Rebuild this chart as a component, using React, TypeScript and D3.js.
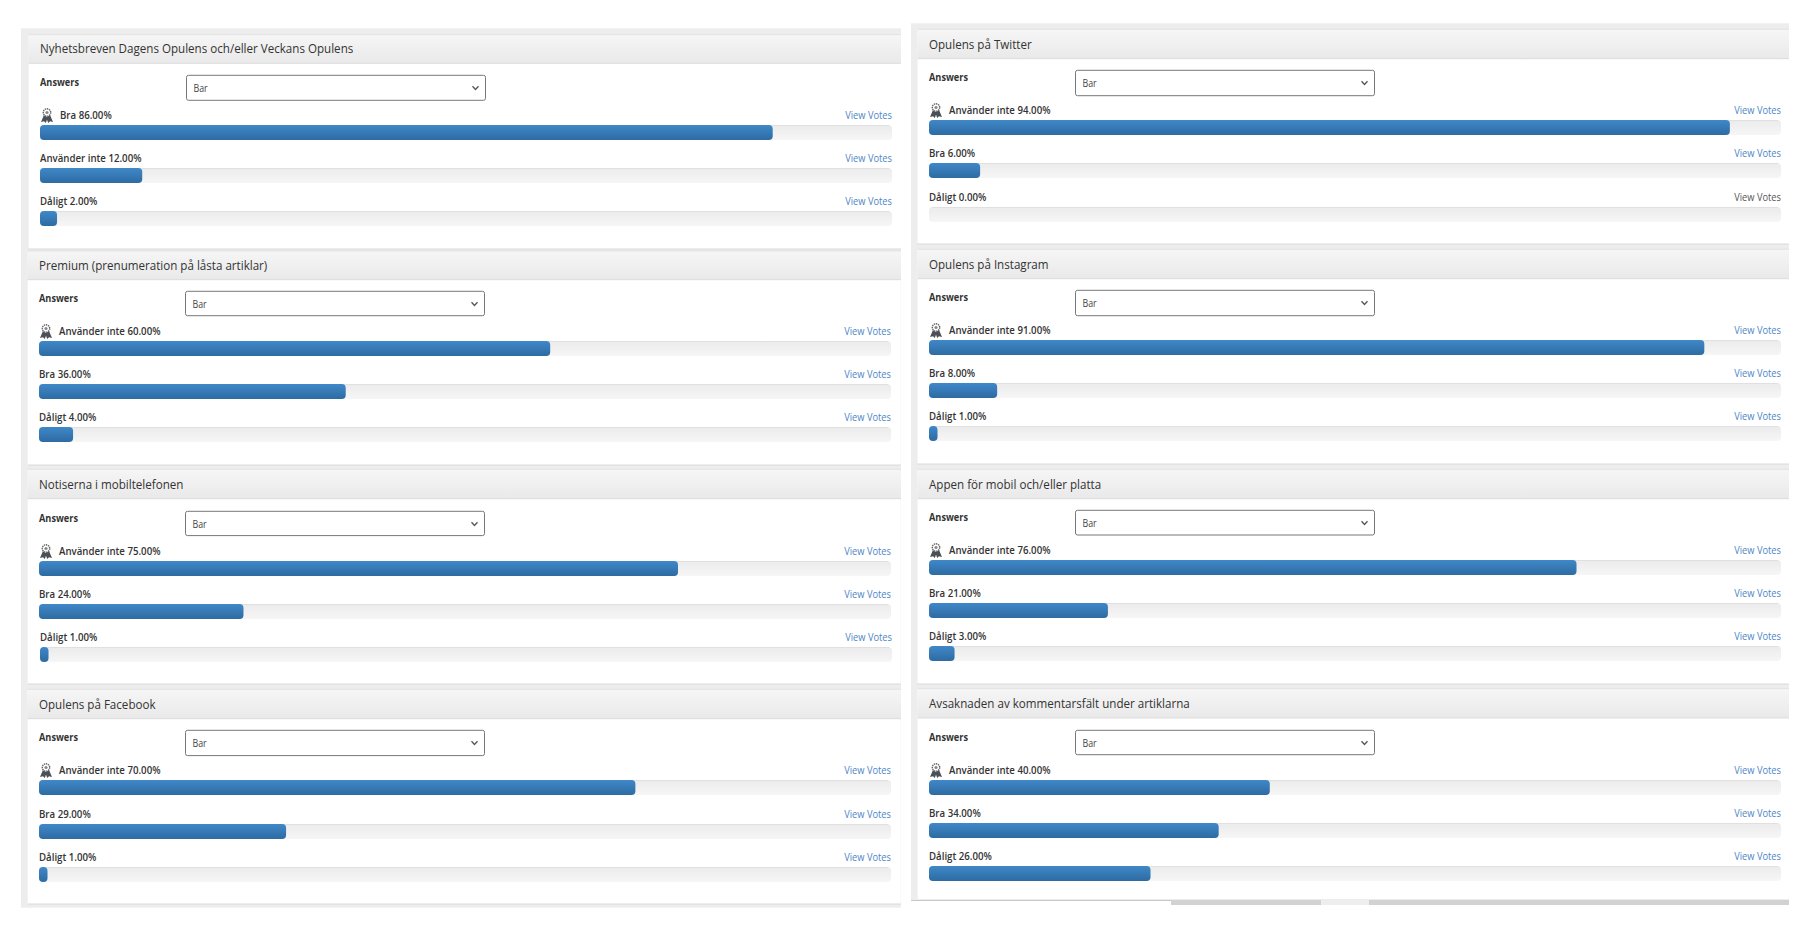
import React from 'react';
import * as d3 from 'd3';

// Poll titles
const leftTitles = [
  'Nyhetsbreven Dagens Opulens och/eller Veckans Opulens',
  'Premium (prenumeration på låsta artiklar)',
  'Notiserna i mobiltelefonen',
  'Opulens på Facebook',
];
const rightTitles = [
  'Opulens på Twitter',
  'Opulens på Instagram',
  'Appen för mobil och/eller platta',
  'Avsaknaden av kommentarsfält under artiklarna',
];

// Answers per poll, winner first
const leftAnswers = [
  ['Bra', 'Använder inte', 'Dåligt'],
  ['Använder inte', 'Bra', 'Dåligt'],
  ['Använder inte', 'Bra', 'Dåligt'],
  ['Använder inte', 'Bra', 'Dåligt'],
];
const leftValues = [
  [86, 12, 2],
  [60, 36, 4],
  [75, 24, 1],
  [70, 29, 1],
];
const rightAnswers = [
  ['Använder inte', 'Bra', 'Dåligt'],
  ['Använder inte', 'Bra', 'Dåligt'],
  ['Använder inte', 'Bra', 'Dåligt'],
  ['Använder inte', 'Bra', 'Dåligt'],
];
const rightValues = [
  [94, 6, 0],
  [91, 8, 1],
  [76, 21, 3],
  [40, 34, 26],
];

const FONT = '"Open Sans", sans-serif';
const TRACK_W = 852;
const BAR_H = 15;

// the screenshot's font runs narrower than Open Sans, squeeze it a bit
const Txt: React.FC<{
  x: number; y: number; size: number; squeeze: number; fill: string;
  weight?: number; anchor?: string; children: React.ReactNode;
}> = ({ x, y, size, squeeze, fill, weight, anchor, children }) => (
  <text
    transform={`translate(${x},${y}) scale(${squeeze},1)`}
    fontSize={size} fontWeight={weight || 400} fill={fill} textAnchor={anchor || 'start'} fontFamily={FONT}
  >{children}</text>
);

const Rosette: React.FC<{ x: number; y: number }> = ({ x, y }) => (
  <g transform={`translate(${x},${y})`}>
    <path d="M-3,2.5 L-6,9.5 L-3,8.8 L-1.2,10.5 L0.8,5 Z" fill="#4a5056" />
    <path d="M3,2.5 L6,9.5 L3,8.8 L1.2,10.5 L-0.8,5 Z" fill="#4a5056" />
    <circle cx={0} cy={0} r={3.7} fill="#fff" stroke="#666" strokeWidth={1.4} strokeDasharray="1.4 0.7" />
    <circle cx={0} cy={0} r={1.6} fill="#888" />
  </g>
);

interface PollProps {
  title: string;
  answers: string[];
  values: number[];
  barTops: number[];
  barX: number;
  headerTop: number;
  headerBottom: number;
  selectTop: number;
  selectBottom: number;
  selectX: number;
  panelRight: number;
  // rows that were pasted a pixel off in the screenshot
  rowShift?: number[];
  greyRow?: number;
}

const Poll: React.FC<PollProps> = ({
  title, answers, values, barTops, barX, headerTop, headerBottom,
  selectTop, selectBottom, selectX, panelRight, rowShift, greyRow,
}) => {
  const first = barTops[0];
  return (
    <g>
      <rect x={barX - 11.5} y={headerTop} width={panelRight - barX + 11.5} height={headerBottom - headerTop} fill="url(#headGrad)" />
      <line x1={barX - 11.5} x2={panelRight} y1={headerBottom} y2={headerBottom} stroke="#dcdcdc" />
      <line x1={barX - 11.5} x2={panelRight} y1={headerTop} y2={headerTop} stroke="#e2e2e2" />
      <Txt x={barX} y={headerBottom - 10} size={13} squeeze={0.893} fill="#333">{title}</Txt>

      <Txt x={barX} y={selectTop + 11} size={10} squeeze={0.92} weight={700} fill="#333">Answers</Txt>
      <rect x={selectX} y={selectTop} width={299} height={selectBottom - selectTop} rx={2} fill="#fff" stroke="#777" />
      <Txt x={selectX + 7} y={selectTop + 17} size={10} squeeze={0.88} fill="#444">Bar</Txt>
      <path
        d={`M${selectX + 286},${selectTop + 11} l3,3.2 l3,-3.2`}
        fill="none" stroke="#555" strokeWidth={1.3}
      />

      {answers.map((a, i) => {
        const shift = rowShift ? rowShift[i] : 0;
        const x = d3.scaleLinear().domain([0, 100]).range([barX + shift, barX + shift + TRACK_W]);
        const top = barTops[i];
        const textX = i === 0 ? barX + 20 : barX + shift;
        return (
          <g key={a}>
            {i === 0 && <Rosette x={barX + 7} y={first - 12.5} />}
            <Txt x={textX} y={top - 6} size={10} squeeze={0.967} weight={600} fill="#333">
              {`${a} ${values[i].toFixed(2)}%`}
            </Txt>
            <Txt
              x={x(100)} y={top - 6} anchor="end" size={10} squeeze={0.93}
              fill={greyRow === i ? '#555' : '#4d86c6'}
            >View Votes</Txt>
            <rect x={x(0)} y={top} width={TRACK_W} height={BAR_H} rx={4} fill="url(#trackGrad)" />
            <line x1={x(0) + 3} x2={x(100) - 3} y1={top + 0.5} y2={top + 0.5} stroke="#e0e0e0" />
            {values[i] > 0 && (
              <rect x={x(0)} y={top} width={x(values[i]) - x(0)} height={BAR_H} rx={4} fill="url(#barGrad)" />
            )}
          </g>
        );
      })}
    </g>
  );
};

export default function App() {
  // layout (two pasted columns)
  const leftBars = [[125, 168, 211], [341, 384, 427], [561, 604, 647], [780, 824, 867]];
  const leftHeadTop = [34.7, 251, 469.3, 689.3];
  const leftHeadBot = [63.3, 279.7, 498.7, 718.7];
  const leftSelect = [[75.3, 100.3], [291.3, 315.7], [511.3, 535.6], [730.3, 755.6]];
  const leftEnd = [249, 465, 684, 904];

  const rightBars = [[120, 163, 207], [340, 383, 426], [560, 603, 646], [780, 823, 866]];
  const rightHeadTop = [29.3, 249.3, 469.3, 688.7];
  const rightHeadBot = [58.7, 278.7, 498.7, 718];
  const rightSelect = [[70.3, 95.7], [290.3, 315.7], [510.3, 535], [730.3, 754.7]];
  const rightEnd = [244, 464, 684, 900];

  return (
    <svg width={1814} height={945} style={{ position: 'absolute', left: 0, top: 0, display: 'block', background: '#fff' }}>
      <defs>
        <linearGradient id="headGrad" x1="0" x2="0" y1="0" y2="1">
          <stop offset="0" stopColor="#f6f6f6" />
          <stop offset="1" stopColor="#e9e9e9" />
        </linearGradient>
        <linearGradient id="barGrad" x1="0" x2="0" y1="0" y2="1">
          <stop offset="0" stopColor="#4088c9" />
          <stop offset="1" stopColor="#2d6ba2" />
        </linearGradient>
        <linearGradient id="trackGrad" x1="0" x2="0" y1="0" y2="1">
          <stop offset="0" stopColor="#ebebeb" />
          <stop offset="1" stopColor="#f6f6f6" />
        </linearGradient>
      </defs>

      {/* left column */}
      <rect x={21} y={28.3} width={880} height={879.4} fill="#ededed" />
      {leftTitles.map((t, i) => (
        <g key={t}>
          <rect x={i === 0 ? 28.7 : 27.7} y={leftHeadTop[i]} width={873} height={leftEnd[i] - leftHeadTop[i]} fill="#fff" />
          <line x1={28} x2={901} y1={leftEnd[i]} y2={leftEnd[i]} stroke="#dadada" />
          <Poll
            title={t}
            answers={leftAnswers[i]}
            values={leftValues[i]}
            barTops={leftBars[i]}
            barX={i === 0 ? 40 : 39}
            headerTop={leftHeadTop[i]}
            headerBottom={leftHeadBot[i]}
            selectTop={leftSelect[i][0]}
            selectBottom={leftSelect[i][1]}
            selectX={i === 0 ? 186.5 : 185.5}
            panelRight={901}
            rowShift={i === 2 ? [0, 0, 1] : undefined}
          />
        </g>
      ))}

      {/* right column */}
      <rect x={911} y={23.3} width={878} height={876.7} fill="#ededed" />
      {rightTitles.map((t, i) => (
        <g key={t}>
          <rect x={917.6} y={rightHeadTop[i]} width={871.4} height={rightEnd[i] - rightHeadTop[i]} fill="#fff" />
          <line x1={917} x2={1789} y1={rightEnd[i]} y2={rightEnd[i]} stroke="#dadada" />
          <Poll
            title={t}
            answers={rightAnswers[i]}
            values={rightValues[i]}
            barTops={rightBars[i]}
            barX={929}
            headerTop={rightHeadTop[i]}
            headerBottom={rightHeadBot[i]}
            selectTop={rightSelect[i][0]}
            selectBottom={rightSelect[i][1]}
            selectX={1075.5}
            panelRight={1789}
            greyRow={i === 0 ? 2 : undefined}
          />
        </g>
      ))}

      {/* scrollbar strip under the right column */}
      <line x1={911} x2={1171} y1={900.5} y2={900.5} stroke="#c8c8c8" />
      <rect x={1171} y={900} width={618} height={5} fill="#d2d2d2" />
      <rect x={1321} y={900} width={48} height={5} fill="#eeeeee" />
    </svg>
  );
}
